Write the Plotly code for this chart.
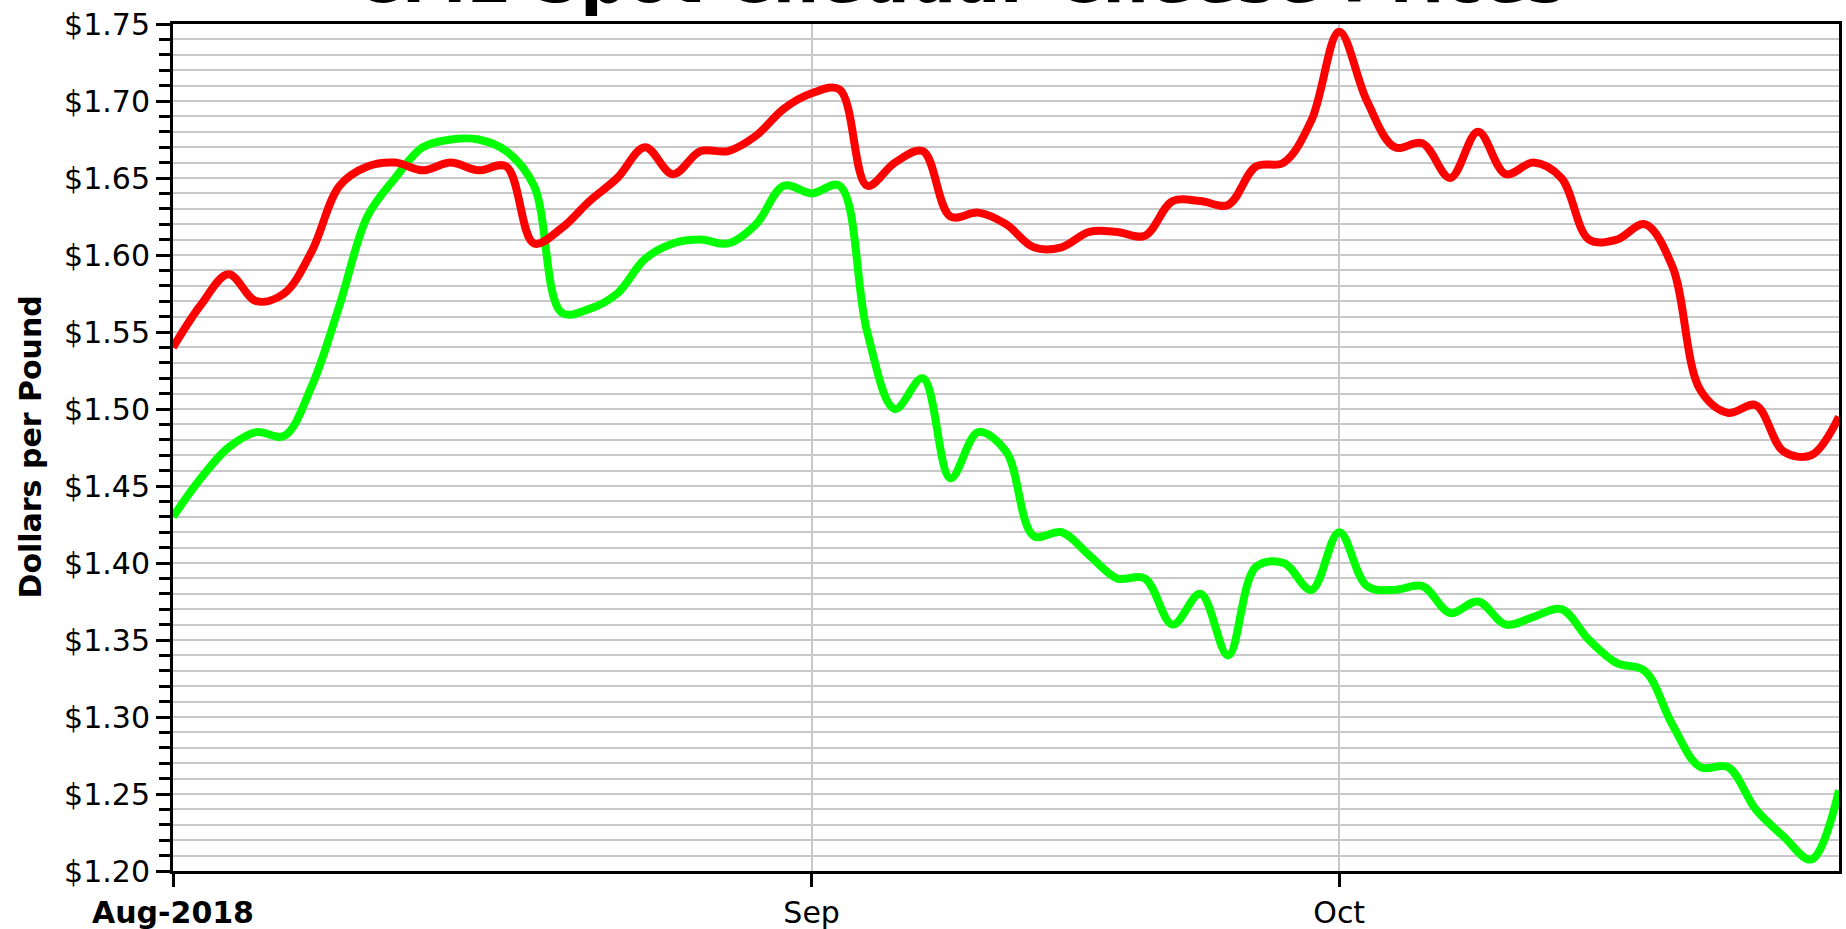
import plotly.graph_objects as go
import pandas as pd

# trading days Aug 1 - Oct 25 2018 (Labor Day closed)
trading_days = [d.strftime("%Y-%m-%d") for d in pd.bdate_range("2018-08-01", "2018-10-25")
                if d.strftime("%Y-%m-%d") != "2018-09-03"]

blocks = [1.54, 1.5675, 1.5875, 1.57, 1.575, 1.6025, 1.645, 1.6575, 1.66, 1.655,
          1.66, 1.655, 1.6575, 1.6075, 1.6175, 1.635, 1.65, 1.67, 1.6525, 1.6675,
          1.6675, 1.6775, 1.695, 1.705, 1.7075, 1.645, 1.66, 1.6675, 1.625, 1.6275,
          1.62, 1.605, 1.605, 1.615, 1.615, 1.6125, 1.635, 1.635, 1.6325, 1.6575,
          1.66, 1.6875, 1.745, 1.70, 1.67, 1.6725, 1.65, 1.68, 1.6525, 1.66,
          1.65, 1.61, 1.61, 1.62, 1.5925, 1.5125, 1.4975, 1.5025, 1.4725, 1.47,
          1.495]

barrels = [1.43, 1.455, 1.475, 1.485, 1.4825, 1.515, 1.5675, 1.625, 1.65, 1.67,
           1.675, 1.675, 1.6675, 1.645, 1.5625, 1.565, 1.575, 1.5975, 1.6075, 1.61,
           1.6075, 1.62, 1.645, 1.64, 1.645, 1.55, 1.50, 1.52, 1.455, 1.485,
           1.4725, 1.4175, 1.42, 1.405, 1.39, 1.39, 1.36, 1.38, 1.34, 1.3975,
           1.40, 1.3825, 1.42, 1.385, 1.3825, 1.385, 1.3675, 1.375, 1.36, 1.365,
           1.37, 1.35, 1.335, 1.33, 1.295, 1.2675, 1.2675, 1.24, 1.2225, 1.2075,
           1.2525]

tick_days = ["2018-08-01", "2018-09-04", "2018-10-01"]
tick_text = ["<b>Aug-2018</b>", "Sep", "Oct"]

title_text = "CME Spot Cheddar Cheese Prices"
y_title = "Dollars per Pound"

GRID = "#C8C8C8"
FONT = "DejaVu Sans"

fig = go.Figure()
fig.add_trace(go.Scatter(x=trading_days, y=barrels, mode="lines",
                         line=dict(color="#00FF00", width=8, shape="spline", smoothing=1.0),
                         name="Barrels"))
fig.add_trace(go.Scatter(x=trading_days, y=blocks, mode="lines",
                         line=dict(color="#FF0000", width=8, shape="spline", smoothing=1.0),
                         name="Blocks"))

fig.update_layout(
    width=1846, height=929,
    margin=dict(l=173, r=7, t=24, b=58),
    plot_bgcolor="white", paper_bgcolor="white",
    showlegend=False,
    font=dict(family=FONT, size=30, color="black"),
)

fig.update_xaxes(
    type="category", range=[0, len(trading_days) - 1], automargin=False,
    tickmode="array", tickvals=tick_days, ticktext=tick_text,
    ticks="outside", ticklen=13, tickwidth=3, tickcolor="black",
    showline=True, linewidth=3, linecolor="black", mirror=True,
    showgrid=True, gridcolor=GRID, gridwidth=2, zeroline=False,
    tickfont=dict(family=FONT, size=30, color="black"),
)

fig.update_yaxes(
    range=[1.20, 1.75], tick0=1.20, dtick=0.05, automargin=False,
    tickprefix="$", tickformat=".2f",
    ticks="outside", ticklen=14, tickwidth=3, tickcolor="black",
    showline=True, linewidth=3, linecolor="black", mirror=True,
    showgrid=True, gridcolor=GRID, gridwidth=2, zeroline=False,
    tickfont=dict(family=FONT, size=30, color="black"),
    minor=dict(tick0=1.20, dtick=0.01, ticks="outside", ticklen=11, tickwidth=3,
               tickcolor="black", showgrid=True, gridcolor=GRID, gridwidth=2),
)

# title sits mostly above the top edge, as in the source image
fig.add_annotation(text="<b>" + title_text + "</b>", xref="paper", yref="paper",
                   x=0.4724, y=1, yshift=5, xanchor="center", yanchor="bottom", showarrow=False,
                   font=dict(family=FONT, size=65, color="black"))

fig.add_annotation(text="<b>" + y_title + "</b>", xref="paper", yref="paper",
                   x=0, y=0.5, xshift=-143, xanchor="center", yanchor="middle",
                   textangle=-90, showarrow=False,
                   font=dict(family=FONT, size=30, color="black"))

# drop the browser's default body margin so the figure sits at the page corner
fig.write_html("out.html", config={"displayModeBar": False},
               post_script="document.body.style.margin='0';document.body.style.overflow='hidden';")
